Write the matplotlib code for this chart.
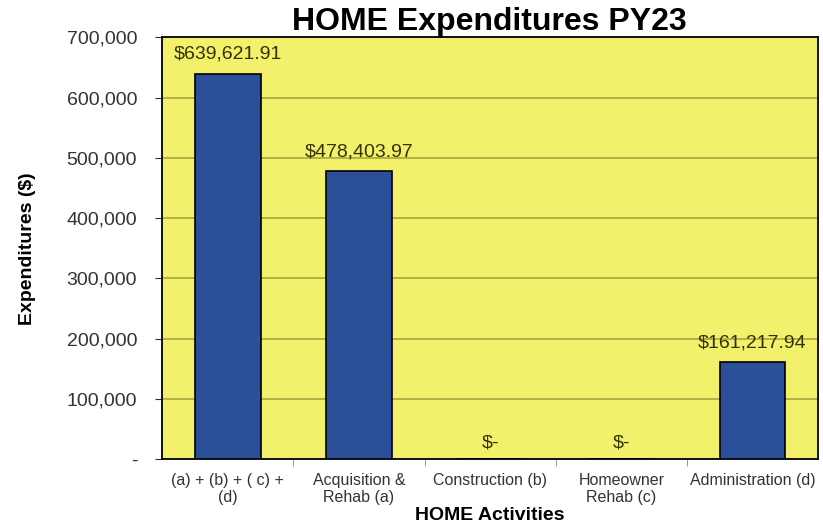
import matplotlib.pyplot as plt
from matplotlib.ticker import FuncFormatter

plt.rcParams['font.family'] = ['Liberation Sans', 'DejaVu Sans']

# Data
categories = ['(a) + (b) + ( c) +\n(d)', 'Acquisition &\nRehab (a)', 'Construction (b)',
              'Homeowner\nRehab (c)', 'Administration (d)']
expenditures = [639621.91, 478403.97, 0, 0, 161217.94]
y_ticks = [0, 100000, 200000, 300000, 400000, 500000, 600000, 700000]


def money_label(v):
    return '$-' if v == 0 else f'${v:,.2f}'


def tick_fmt(v, pos):
    return '-' if v == 0 else f'{v:,.0f}'


fig = plt.figure(figsize=(8.23, 5.27), dpi=100)
ax = fig.add_axes([0.197, 0.129, 0.797, 0.800])
ax.set_facecolor('#F3F06C')
fig.patch.set_facecolor('white')

x = range(len(categories))
ax.bar(x, expenditures, width=0.5, color='#2C4F9A', edgecolor='black', linewidth=1.2, zorder=3)

for i, v in zip(x, expenditures):
    if v == 0:
        ax.text(i, 13000, money_label(v), ha='center', va='bottom', fontsize=14, color='#333300')
    else:
        ax.text(i, v + 18000, money_label(v), ha='center', va='bottom', fontsize=14, color='#333300')

ax.set_xlim(-0.5, len(categories) - 0.5)
ax.set_ylim(0, 700000)
ax.set_yticks(y_ticks)
ax.yaxis.set_major_formatter(FuncFormatter(tick_fmt))
ax.tick_params(axis='y', labelsize=14, length=5, pad=13, colors='#333333', labelcolor='#333333')
ax.grid(axis='y', color='#ABA640', linewidth=1.2, zorder=0)

ax.set_xticks(list(x))
ax.set_xticklabels(categories, fontsize=11.5, color='#333333')
ax.tick_params(axis='x', length=0, pad=10)
ax.set_xticks([i + 0.5 for i in range(len(categories) - 1)], minor=True)
ax.tick_params(axis='x', which='minor', length=5, color='#888888')

for s in ax.spines.values():
    s.set_color('black')
    s.set_linewidth(1.3)

ax.set_ylabel('Expenditures ($)', fontsize=14, fontweight='bold', labelpad=22)
ax.set_xlabel('HOME Activities', fontsize=14, fontweight='bold', labelpad=1)
fig.text(0.595, 0.958, 'HOME Expenditures PY23', ha='center', va='center',
         fontsize=23, fontweight='bold')

fig.savefig('out.png', dpi=100)
